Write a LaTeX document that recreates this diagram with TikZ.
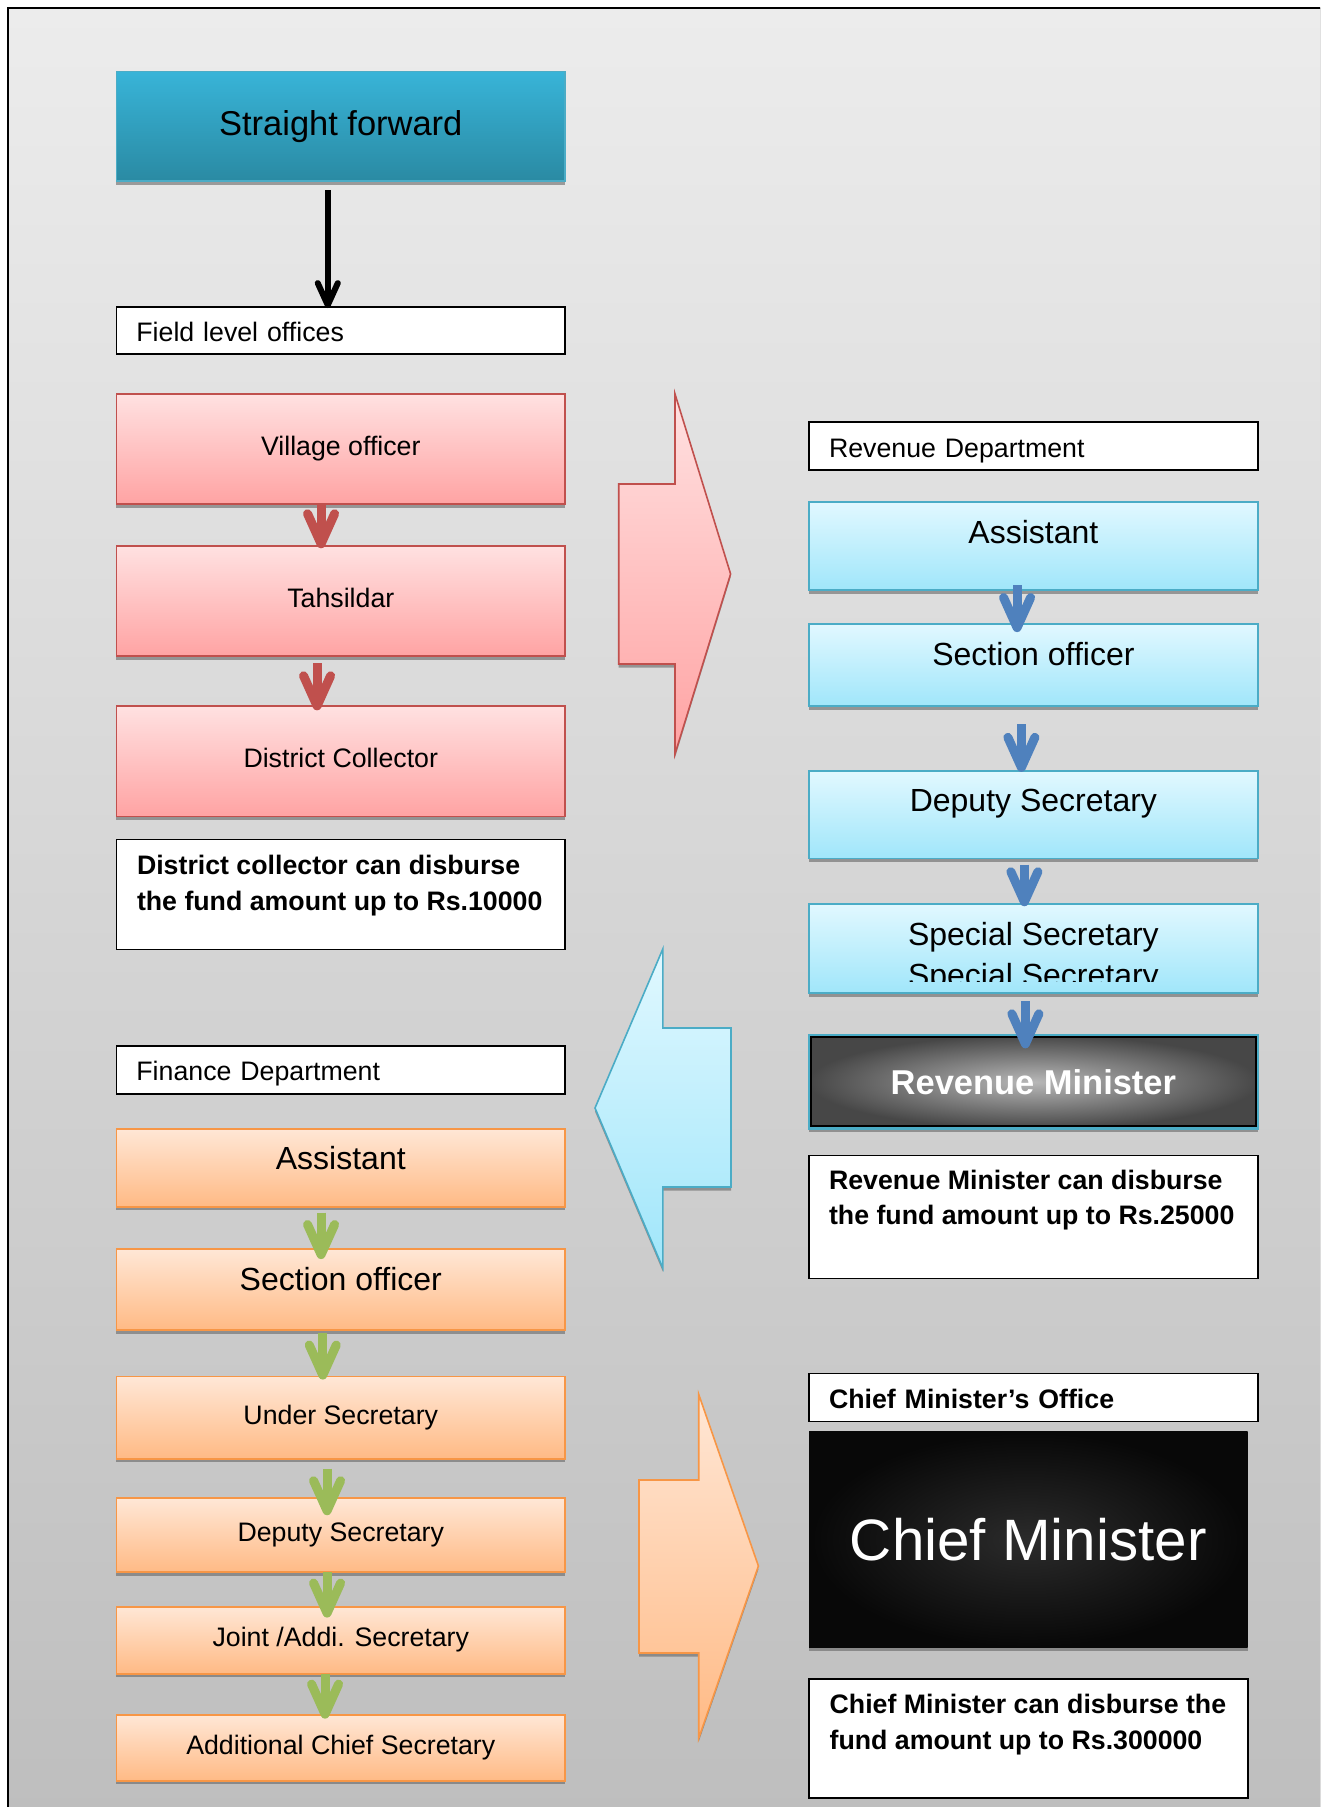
\documentclass[tikz,border=0pt]{standalone}
\usepackage{fontspec}
\setmainfont{Liberation Sans}
\usepackage{tikz}
\usepackage{xcolor}
\usetikzlibrary{arrows.meta,positioning,shadows}

\definecolor{bgtop}{HTML}{ECECEC}
\definecolor{bgbot}{HTML}{BEBEBE}
\definecolor{sftop}{HTML}{38B4D8}
\definecolor{sfbot}{HTML}{2A8AA3}
\definecolor{pinktop}{HTML}{FFE1E1}
\definecolor{pinkbot}{HTML}{FFA3A3}
\definecolor{redline}{HTML}{C0504D}
\definecolor{bluetop}{HTML}{E1F8FF}
\definecolor{bluebot}{HTML}{A0E6FA}
\definecolor{blueline}{HTML}{4BACC6}
\definecolor{orgtop}{HTML}{FFE7D6}
\definecolor{orgbot}{HTML}{FFBA85}
\definecolor{orgline}{HTML}{F79646}
\definecolor{arrred}{HTML}{C0504D}
\definecolor{arrblue}{HTML}{4F81BD}
\definecolor{arrgreen}{HTML}{9BBB59}

\begin{document}
\begin{tikzpicture}[x=0.01cm,y=-0.01cm,
    every node/.style={outer sep=0pt},
    smalltxt/.style={font=\fontsize{7.6}{10.2}\selectfont},
    boldtxt/.style={font=\fontsize{7.6}{10.2}\selectfont\bfseries},
    medtxt/.style={font=\fontsize{9.1}{11}\selectfont},
    midtxt/.style={text height=0.25cm,text depth=0.12cm},
    toptxt/.style={medtxt,text height=0.41cm,text depth=#1},
    noteline/.style={boldtxt,inner sep=0pt,anchor=base west},
    lowshadow/.style={drop shadow={shadow xshift=0cm,shadow yshift=-0.035cm,opacity=0.6,fill=black!60}},
    boxbase/.style={rectangle,minimum width=4.485cm,inner sep=0pt,line width=0.018cm},
    headbox/.style={boxbase,text width=4.085cm,inner xsep=0.2cm,align=left,draw=black,fill=white,smalltxt,
        text height=0.29cm,text depth=0.07cm},
    notebox/.style={boxbase,draw=black,fill=white},
    sfbox/.style={boxbase,minimum height=1.095cm,draw=blueline,top color=sftop,bottom color=sfbot,lowshadow,font=\fontsize{9.8}{12}\selectfont},
    pinkbox/.style={boxbase,minimum height=1.1cm,draw=redline,top color=pinktop,bottom color=pinkbot,lowshadow,smalltxt,midtxt},
    bluebox/.style={boxbase,draw=blueline,top color=bluetop,bottom color=bluebot,lowshadow},
    orgbox/.style={boxbase,draw=orgline,top color=orgtop,bottom color=orgbot,lowshadow,smalltxt,midtxt},
    revbox/.style={boxbase,minimum height=0.93cm,draw=blueline,line width=0.022cm,inner color=black!28,outer color=black!72,
        text=white,font=\fontsize{9.8}{12}\selectfont\bfseries,lowshadow,
        path picture={\draw[black,line width=0.06cm] (path picture bounding box.south west) rectangle (path picture bounding box.north east);}},
    cmbox/.style={boxbase,minimum width=4.384cm,minimum height=2.16cm,inner color=black!83,outer color=black!97,
        text=white,font=\fontsize{16.6}{20}\selectfont,lowshadow},
    bigarrow/.style={line width=0.016cm,lowshadow},
    blackarr/.style={draw=black,line width=0.06cm,-{Straight Barb[length=0.22cm,width=0.2cm,round]}},
    redarr/.style={draw=arrred,line width=0.09cm,-{Straight Barb[length=0.3cm,width=0.27cm,round]}},
    bluearr/.style={draw=arrblue,line width=0.09cm,-{Straight Barb[length=0.3cm,width=0.27cm,round]}},
    greenarr/.style={draw=arrgreen,line width=0.09cm,-{Straight Barb[length=0.3cm,width=0.27cm,round]}}]

    % Page and frame
    \useasboundingbox (0,0) rectangle (1320,1807);
    \fill[white] (0,0) rectangle (1320,1807);
    \begin{scope}
        \clip (0,0) rectangle (1320,1807);
        \fill[top color=bgtop,bottom color=bgbot] (8,8) rectangle (1330,1817);
        \draw[line width=0.022cm] (8,1820) -- (8,8) -- (1330,8);
    \end{scope}

    % Left column
    \node[sfbox,anchor=north west] (sf) at (116.4,71.5) {Straight forward};
    \node[headbox,minimum height=0.47cm,below=1.26cm of sf] (field) {Field level offices};
    \node[pinkbox,below=0.40cm of field] (vill) {Village officer};
    \node[pinkbox,below=0.42cm of vill] (tahs) {Tahsildar};
    \node[pinkbox,below=0.50cm of tahs] (dc) {District Collector};
    \node[notebox,minimum height=1.1cm,below=0.23cm of dc] (dcnote) {};
    \node[noteline] (dcline1) at ([xshift=0.206cm,yshift=-0.35cm]dcnote.north west) {District collector can disburse};
    \node[noteline] (dcline2) at ([yshift=-0.36cm]dcline1.base west) {the fund amount up to Rs.10000};

    \node[headbox,minimum height=0.474cm,below=0.966cm of dcnote] (fin) {Finance Department};
    \node[orgbox,toptxt=0.37cm,below=0.35cm of fin] (fasst) {Assistant};
    \node[orgbox,toptxt=0.40cm,below=0.424cm of fasst] (fsec) {Section officer};
    \node[orgbox,minimum height=0.82cm,below=0.464cm of fsec] (funder) {Under Secretary};
    \node[orgbox,minimum height=0.74cm,below=0.396cm of funder] (fdep) {Deputy Secretary};
    \node[orgbox,minimum height=0.67cm,below=0.343cm of fdep] (fjoint) {Joint /Addi. Secretary};
    \node[orgbox,minimum height=0.66cm,below=0.41cm of fjoint] (faddl) {Additional Chief Secretary};

    % Right column
    \node[headbox,minimum height=0.48cm,anchor=north west] (revdept) at (809,422) {Revenue Department};
    \node[bluebox,toptxt=0.47cm,below=0.32cm of revdept] (rasst) {Assistant};
    \node[bluebox,toptxt=0.41cm,below=0.34cm of rasst] (rsec) {Section officer};
    \node[bluebox,toptxt=0.466cm,below=0.647cm of rsec] (rdep) {Deputy Secretary};
    \node[bluebox,toptxt=0.48cm,below=0.457cm of rdep] (rspec) {Special Secretary};
    \begin{scope}
        \clip ([yshift=0.12cm]rspec.south west) rectangle (rspec.north east);
        \node[medtxt,anchor=base] (rspec2) at ([yshift=-0.82cm]rspec.north) {Special Secretary};
    \end{scope}
    \node[revbox,below=0.42cm of rspec] (revmin) {Revenue Minister};
    \node[notebox,minimum height=1.23cm,below=0.27cm of revmin] (rmnote) {};
    \node[noteline] (rmline1) at ([xshift=0.2cm,yshift=-0.34cm]rmnote.north west) {Revenue Minister can disburse};
    \node[noteline] (rmline2) at ([yshift=-0.35cm]rmline1.base west) {the fund amount up to Rs.25000};

    \node[headbox,boldtxt,minimum height=0.48cm,below=0.95cm of rmnote] (cmo) {Chief Minister’s Office};
    \node[cmbox,below=0.1cm of cmo.south west,anchor=north west] (cm) {Chief Minister};
    \node[notebox,minimum width=4.384cm,minimum height=1.19cm,below=0.31cm of cm.south west,anchor=north west] (cmnote) {};
    \node[noteline] (cmline1) at ([xshift=0.206cm,yshift=-0.35cm]cmnote.north west) {Chief Minister can disburse the};
    \node[noteline] (cmline2) at ([yshift=-0.36cm]cmline1.base west) {fund amount up to Rs.300000};

    % Block arrows
    \draw[bigarrow,draw=redline,top color=pinktop,bottom color=pinkbot]
        (618.7,484) -- (675,484) -- (675,394) -- (730.6,574) -- (675,754) -- (675,664) -- (618.7,664) -- cycle;
    \draw[bigarrow,draw=blueline,top color=bluetop,bottom color=bluebot]
        (731,1028) -- (662.8,1028) -- (662.8,949) -- (595,1108) -- (662.8,1268) -- (662.8,1187) -- (731,1187) -- cycle;
    \draw[bigarrow,draw=orgline,top color=orgtop,bottom color=orgbot]
        (639,1480) -- (698.7,1480) -- (698.7,1394.3) -- (758.4,1566) -- (698.7,1738.3) -- (698.7,1653) -- (639,1653) -- cycle;

    % Arrows
    \draw[blackarr] ([xshift=-0.13cm,yshift=-0.09cm]sf.south) -- ([xshift=-0.13cm,yshift=-0.01cm]field.north);
    \draw[redarr] ([xshift=-0.197cm,yshift=0.01cm]vill.south) -- ([xshift=-0.197cm,yshift=-0.02cm]tahs.north);
    \draw[redarr] ([xshift=-0.237cm,yshift=-0.07cm]tahs.south) -- ([xshift=-0.237cm,yshift=-0.04cm]dc.north);
    \draw[bluearr] ([xshift=-0.163cm,yshift=0.05cm]rasst.south) -- ([xshift=-0.163cm,yshift=-0.08cm]rsec.north);
    \draw[bluearr] ([xshift=-0.12cm,yshift=-0.18cm]rsec.south) -- ([xshift=-0.12cm,yshift=-0.01cm]rdep.north);
    \draw[bluearr] ([xshift=-0.09cm,yshift=-0.06cm]rdep.south) -- ([xshift=-0.09cm,yshift=-0.02cm]rspec.north);
    \draw[bluearr] ([xshift=-0.08cm,yshift=-0.08cm]rspec.south) -- ([xshift=-0.08cm,yshift=-0.13cm]revmin.north);
    \draw[greenarr] ([xshift=-0.197cm,yshift=-0.06cm]fasst.south) -- ([xshift=-0.197cm,yshift=-0.10cm]fsec.north);
    \draw[greenarr] ([xshift=-0.18cm,yshift=-0.03cm]fsec.south) -- ([xshift=-0.18cm,yshift=-0.03cm]funder.north);
    \draw[greenarr] ([xshift=-0.137cm,yshift=-0.10cm]funder.south) -- ([xshift=-0.137cm,yshift=-0.17cm]fdep.north);
    \draw[greenarr] ([xshift=-0.137cm]fdep.south) -- ([xshift=-0.137cm,yshift=-0.11cm]fjoint.north);
    \draw[greenarr] ([xshift=-0.157cm]fjoint.south) -- ([xshift=-0.157cm,yshift=-0.04cm]faddl.north);
\end{tikzpicture}
\end{document}
